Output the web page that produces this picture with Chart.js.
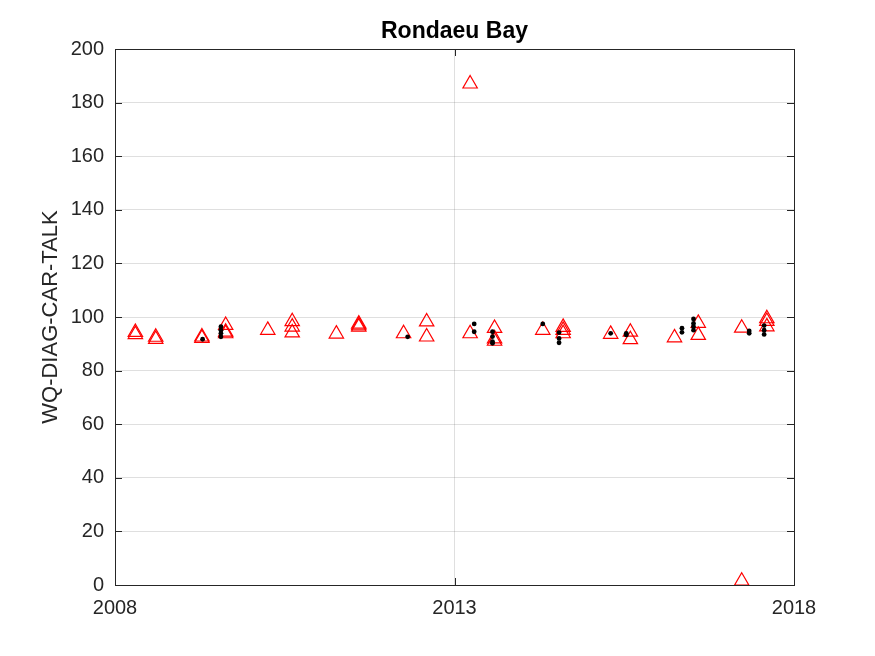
<!DOCTYPE html>
<html lang="en">
<head>
    <meta charset="UTF-8">
    <title>Rondaeu Bay</title>
    <style>
        body {
            margin: 0;
            background: #ffffff;
        }
        #wrap {
            width: 875px;
            height: 656px;
        }
    </style>
</head>
<body>
    <div id="wrap">
        <canvas id="chart" width="875" height="656"></canvas>
    </div>

    <script src="https://cdn.jsdelivr.net/npm/chart.js"></script>
    <script>
        // red triangles (decimal year, value)
        const triDates = [
            2008.30, 2008.30, 2008.60, 2008.60, 2009.28, 2009.28,
            2009.63, 2009.63, 2009.63, 2010.25, 2010.61, 2010.61, 2010.61,
            2011.26, 2011.59, 2011.59, 2011.59, 2012.25, 2012.59, 2012.59,
            2013.23, 2013.23, 2013.59, 2013.59, 2013.59, 2014.30,
            2014.60, 2014.60, 2014.60, 2015.30, 2015.59, 2015.59,
            2016.24, 2016.59, 2016.59, 2017.23, 2017.23,
            2017.60, 2017.60, 2017.60
        ];
        const triValues = [
            94.3, 93.5, 92.5, 91.7, 92.6, 92.1,
            96.9, 94.4, 93.8, 95.1, 98.3, 96.3, 94.1,
            93.7, 97.4, 96.8, 96.3, 93.8, 98.2, 92.6,
            187.0, 93.8, 95.8, 91.9, 91.0, 95.1,
            96.2, 95.1, 93.8, 93.6, 94.4, 91.6,
            92.3, 97.7, 93.2, 95.9, 1.5,
            99.4, 98.4, 96.4
        ];

        // black dots (decimal year, value)
        const dotDates = [
            2009.29, 2009.56, 2009.56, 2009.56, 2009.56,
            2012.31, 2013.29, 2013.29,
            2013.56, 2013.56, 2013.56, 2013.56, 2014.30,
            2014.54, 2014.54, 2014.54, 2015.30, 2015.53, 2015.53,
            2016.35, 2016.35, 2016.52, 2016.52, 2016.52, 2016.52,
            2017.34, 2017.34, 2017.56, 2017.56, 2017.56
        ];
        const dotValues = [
            91.7, 96.4, 95.1, 93.9, 92.6,
            92.6, 97.4, 94.5,
            94.5, 92.7, 90.8, 90.2, 97.4,
            94.2, 92.0, 90.4, 93.9, 93.9, 93.3,
            95.8, 94.3, 99.3, 97.6, 96.4, 95.1,
            94.8, 93.9, 96.8, 95.1, 93.5
        ];

        const xTicks = [2008, 2013, 2018];
        const yTicks = [0, 20, 40, 60, 80, 100, 120, 140, 160, 180, 200];

        const chartTitle = 'Rondaeu Bay';
        const yTitle = 'WQ-DIAG-CAR-TALK';

        function pairs(xs, ys) {
            return xs.map((x, i) => ({ x: x, y: ys[i] }));
        }

        const ink = '#262626';
        const fontFamily = '"Liberation Sans", Arial, Helvetica, sans-serif';

        // box round the axes and the little inward ticks, like matlab
        const boxPlugin = {
            id: 'box',
            afterDatasetsDraw(chart) {
                const ctx = chart.ctx;
                const a = chart.chartArea;
                const xs = chart.scales.x;
                const ys = chart.scales.y;
                const len = 7;
                ctx.save();
                ctx.strokeStyle = ink;
                ctx.lineWidth = 1;
                ctx.beginPath();
                xTicks.forEach(v => {
                    const px = Math.round(xs.getPixelForValue(v)) + 0.5;
                    ctx.moveTo(px, a.bottom);
                    ctx.lineTo(px, a.bottom - len);
                    ctx.moveTo(px, a.top);
                    ctx.lineTo(px, a.top + len);
                });
                yTicks.forEach(v => {
                    const py = Math.round(ys.getPixelForValue(v)) + 0.5;
                    ctx.moveTo(a.left, py);
                    ctx.lineTo(a.left + len, py);
                    ctx.moveTo(a.right, py);
                    ctx.lineTo(a.right - len, py);
                });
                ctx.stroke();
                ctx.strokeRect(Math.round(a.left) + 0.5, Math.round(a.top) + 0.5,
                    Math.round(a.right - a.left), Math.round(a.bottom - a.top));
                ctx.restore();
            }
        };

        window.onload = function() {
            const ctx = document.getElementById('chart').getContext('2d');
            new Chart(ctx, {
                type: 'scatter',
                data: {
                    datasets: [{
                        label: 'dots',
                        data: pairs(dotDates, dotValues),
                        pointStyle: 'circle',
                        pointRadius: 2.4,
                        pointBackgroundColor: '#000000',
                        pointBorderColor: '#000000',
                        pointBorderWidth: 0,
                        order: 0
                    }, {
                        label: 'triangles',
                        data: pairs(triDates, triValues),
                        pointStyle: 'triangle',
                        pointRadius: 8.3,
                        pointBackgroundColor: 'rgba(0,0,0,0)',
                        pointBorderColor: '#ff0000',
                        pointBorderWidth: 1.2,
                        order: 1
                    }]
                },
                options: {
                    responsive: false,
                    animation: false,
                    layout: {
                        padding: { left: 0, right: 81, top: 0, bottom: 0 }
                    },
                    plugins: {
                        legend: { display: false },
                        tooltip: { enabled: false },
                        title: {
                            display: true,
                            fullSize: false,
                            text: chartTitle,
                            color: '#000000',
                            font: { family: fontFamily, size: 23, weight: 'bold', lineHeight: 1.2 },
                            padding: { top: 18, bottom: 3.4 }
                        }
                    },
                    scales: {
                        x: {
                            type: 'linear',
                            min: xTicks[0],
                            max: xTicks[xTicks.length - 1],
                            afterBuildTicks: s => { s.ticks = xTicks.map(v => ({ value: v })); },
                            afterFit: s => { s.height = 71; },
                            border: { display: false },
                            grid: { color: 'rgba(38,38,38,0.15)', drawTicks: false },
                            ticks: {
                                color: ink,
                                padding: 11,
                                maxRotation: 0,
                                font: { family: fontFamily, size: 20 },
                                callback: v => String(v)
                            }
                        },
                        y: {
                            min: yTicks[0],
                            max: yTicks[yTicks.length - 1],
                            afterBuildTicks: s => { s.ticks = yTicks.map(v => ({ value: v })); },
                            afterFit: s => { s.width = 115; },
                            border: { display: false },
                            grid: { color: 'rgba(38,38,38,0.15)', drawTicks: false },
                            ticks: {
                                color: ink,
                                padding: 11,
                                font: { family: fontFamily, size: 20 },
                                callback: v => String(v)
                            },
                            title: {
                                display: true,
                                text: yTitle,
                                color: ink,
                                font: { family: fontFamily, size: 22, lineHeight: 1.2 },
                                padding: { top: 38, bottom: 0 }
                            }
                        }
                    }
                },
                plugins: [boxPlugin]
            });
        };
    </script>
</body>
</html>
